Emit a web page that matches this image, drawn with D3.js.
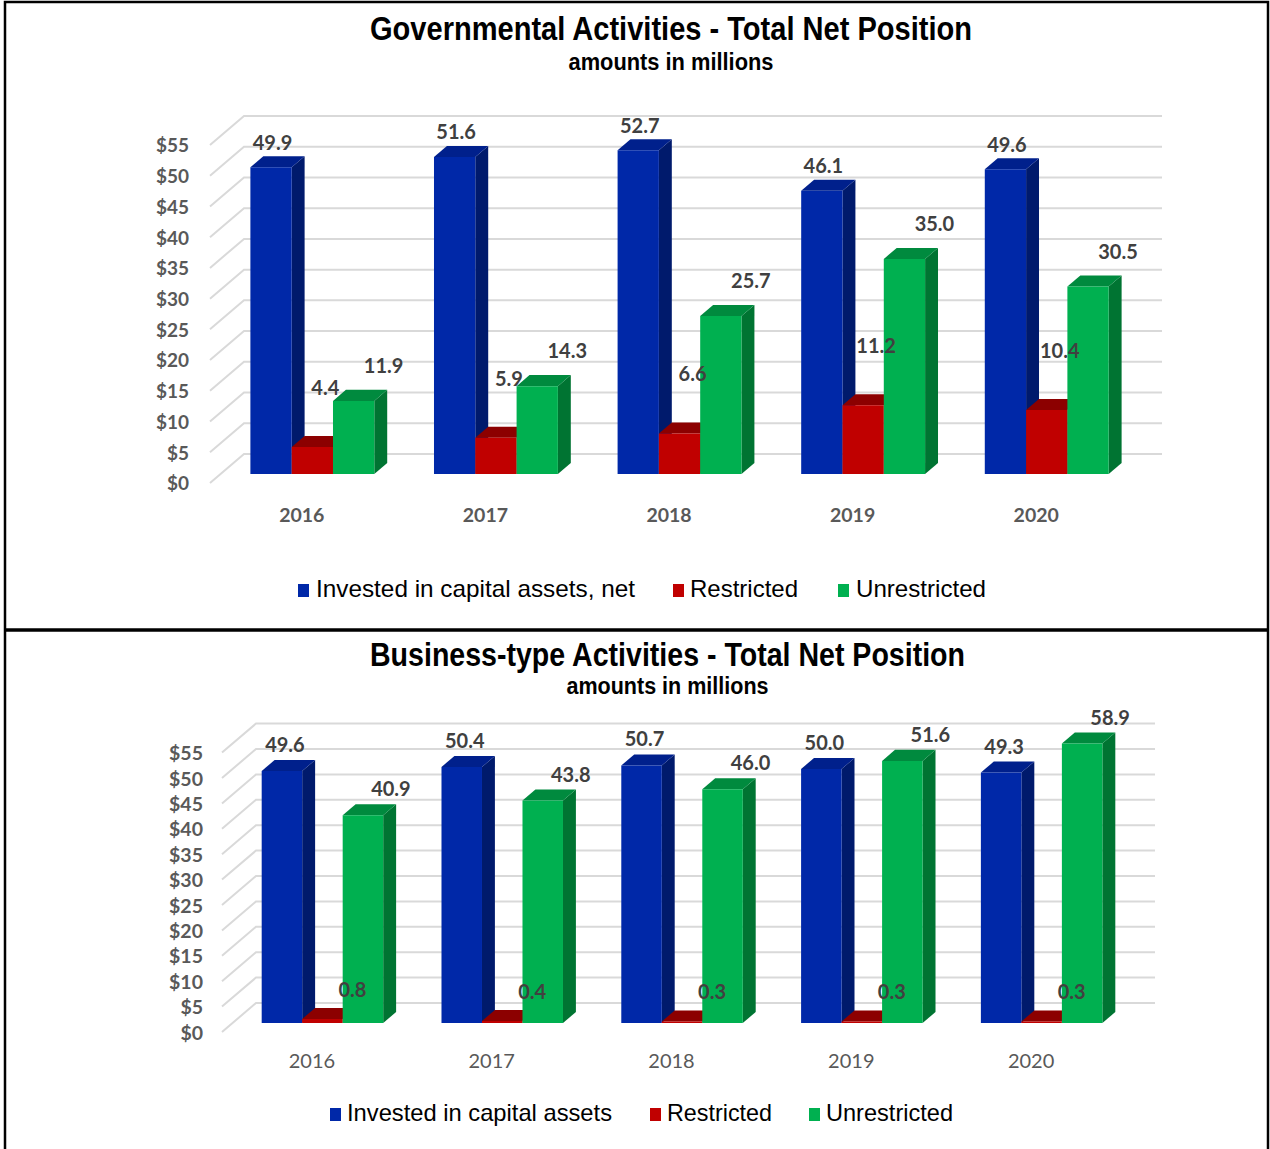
<!DOCTYPE html>
<html><head><meta charset="utf-8">
<script src="https://cdn.jsdelivr.net/npm/d3@7"></script>
<style>body{margin:0;background:#fff} svg{display:block}</style>
</head><body>
<svg id="chart" width="1270" height="1149"></svg>
<script>
// ---------- data ----------
const years = ["2016", "2017", "2018", "2019", "2020"];
const yTicks = [0, 5, 10, 15, 20, 25, 30, 35, 40, 45, 50, 55];
const govSeriesNames = ["Invested in capital assets, net", "Restricted", "Unrestricted"];
const busSeriesNames = ["Invested in capital assets", "Restricted", "Unrestricted"];
const govInvested = [49.9, 51.6, 52.7, 46.1, 49.6];
const govRestricted = [4.4, 5.9, 6.6, 11.2, 10.4];
const govUnrestricted = [11.9, 14.3, 25.7, 35.0, 30.5];
const busInvested = [49.6, 50.4, 50.7, 50.0, 49.3];
const busRestricted = [0.8, 0.4, 0.3, 0.3, 0.3];
const busUnrestricted = [40.9, 43.8, 46.0, 51.6, 58.9];
const govTitle = "Governmental Activities - Total Net Position";
const busTitle = "Business-type Activities - Total Net Position";
const subTitle = "amounts in millions";

// ---------- styles ----------
const palette = [
  {front: "#0028a8", top: "#00208c", side: "#001a6c", key: "#0028a8"},
  {front: "#c00000", top: "#8c0000", side: "#7a0000", key: "#c00000"},
  {front: "#00b050", top: "#008a3e", side: "#007432", key: "#00b050"}
];
const numFont = "Lato, 'Open Sans', sans-serif";
const narrowFont = "'Liberation Sans Narrow', 'Arial Narrow', 'Liberation Sans', Arial, sans-serif";

const svg = d3.select("#chart");

function drawPanel(cfg) {
  const g = svg.append("g");
  const x = d3.scaleBand().domain(cfg.categories).range([cfg.x0, cfg.x1]);
  const y = d3.scaleLinear().domain([0, cfg.max]).range([cfg.y0, cfg.yTop]);
  const s = d3.scaleBand().domain(d3.range(cfg.series.length))
    .range([-1.5 * cfg.barW, 1.5 * cfg.barW]);
  const P = (px, py, d) => [px + d * cfg.DX, py - d * cfg.DY];

  // gridlines: left wall diagonals + back wall
  const grid = g.append("g").attr("stroke", "#d9d9d9").attr("stroke-width", 2).attr("fill", "none");
  yTicks.forEach(t => {
    const a = P(cfg.x0, y(t), 0), b = P(cfg.x0, y(t), 1), c = P(cfg.x1, y(t), 1);
    grid.append("path").attr("d", d3.line()([a, b, c]));
  });

  // y axis labels
  const ya = g.append("g").attr("transform", `translate(${cfg.tickX},0)`)
    .call(d3.axisLeft(y).tickValues(yTicks).tickFormat(d => "$" + d).tickSize(0).tickPadding(0));
  ya.select(".domain").remove();
  ya.selectAll("text").attr("font-family", numFont).attr("font-weight", 700)
    .attr("font-size", cfg.tickFs).attr("fill", "#595959").attr("dy", "0.36em");

  // x axis labels
  const xa = g.append("g").attr("transform", `translate(0,${cfg.y0})`)
    .call(d3.axisBottom(x).tickSize(0));
  xa.select(".domain").remove();
  xa.selectAll("text").attr("font-family", numFont).attr("font-weight", cfg.catWeight)
    .attr("font-size", cfg.catFs).attr("fill", "#595959").attr("y", cfg.catDy).attr("dy", 0);

  // bars
  const dF = cfg.dF, dB = cfg.dB;
  const bars = g.append("g");
  cfg.categories.forEach((cat, i) => {
    const cx = x(cat) + x.bandwidth() / 2;
    cfg.series.forEach((vals, k) => {
      const v = Math.min(vals[i], cfg.max);
      const xl = cx + s(k), xr = xl + s.bandwidth();
      const yt = y(v), yb = y(0);
      const col = palette[k];
      const side = [P(xr, yt, dF), P(xr, yt, dB), P(xr, yb, dB), P(xr, yb, dF)];
      const top = [P(xl, yt, dF), P(xr, yt, dF), P(xr, yt, dB), P(xl, yt, dB)];
      const front = [P(xl, yt, dF), P(xr, yt, dF), P(xr, yb, dF), P(xl, yb, dF)];
      bars.append("path").attr("d", d3.line()(side) + "Z").attr("fill", col.side);
      bars.append("path").attr("d", d3.line()(top) + "Z").attr("fill", col.top);
      bars.append("path").attr("d", d3.line()(front) + "Z").attr("fill", col.front);
    });
  });
  // data labels (on top of all bars)
  const labs = g.append("g");
  cfg.categories.forEach((cat, i) => {
    const cx = x(cat) + x.bandwidth() / 2;
    cfg.series.forEach((vals, k) => {
      const v = Math.min(vals[i], cfg.max);
      const fx = cx + s(k) + s.bandwidth() / 2 + dF * cfg.DX;
      const fy = y(v) - dF * cfg.DY;
      labs.append("text").attr("x", fx + cfg.labOff[k][0]).attr("y", fy - cfg.labOff[k][1])
        .attr("text-anchor", "middle").attr("font-family", numFont).attr("font-weight", 700)
        .attr("font-size", cfg.labFs).attr("fill", "#404040").text(d3.format(".1f")(vals[i]));
    });
  });

  // titles
  g.append("text").attr("x", cfg.titleX).attr("y", cfg.titleY).attr("text-anchor", "middle")
    .attr("font-family", narrowFont).attr("font-weight", 700).attr("font-size", 33)
    .attr("textLength", cfg.titleW).attr("lengthAdjust", "spacingAndGlyphs").text(cfg.title);
  g.append("text").attr("x", cfg.titleX).attr("y", cfg.subY).attr("text-anchor", "middle")
    .attr("font-family", narrowFont).attr("font-weight", 700).attr("font-size", 23)
    .attr("textLength", cfg.subW).attr("lengthAdjust", "spacingAndGlyphs").text(subTitle);

  // legend
  const lg = g.append("g");
  cfg.names.forEach((n, k) => {
    const it = cfg.legend[k];
    lg.append("rect").attr("x", it.sx).attr("y", cfg.legY - 13).attr("width", 11).attr("height", 13)
      .attr("fill", palette[k].key);
    lg.append("text").attr("x", it.tx).attr("y", cfg.legY).attr("font-family", narrowFont)
      .attr("font-size", 24).attr("fill", "#000").attr("textLength", it.tw)
      .attr("lengthAdjust", "spacingAndGlyphs").text(n);
  });
}

drawPanel({
  categories: years, series: [govInvested, govRestricted, govUnrestricted], names: govSeriesNames,
  max: 55, x0: 210, x1: 1128, y0: 483, yTop: 145, DX: 34, DY: 29, dF: 0.31, dB: 0.69,
  barW: 41.3, tickX: 189, tickFs: 19, catFs: 19.5, catWeight: 700, catDy: 39, labFs: 20,
  labOff: [[1.5, 17.5], [13, 52], [30, 28]],
  title: govTitle, titleX: 671, titleY: 40, titleW: 602, subY: 70, subW: 205,
  legY: 597,
  legend: [{sx: 298, tx: 316, tw: 319}, {sx: 673, tx: 690, tw: 108}, {sx: 838, tx: 856, tw: 130}]
});

drawPanel({
  categories: years, series: [busInvested, busRestricted, busUnrestricted], names: busSeriesNames,
  max: 55, x0: 222, x1: 1121, y0: 1032, yTop: 752.6, DX: 34, DY: 29, dF: 0.31, dB: 0.69,
  barW: 40.5, tickX: 203, tickFs: 19.5, catFs: 20, catWeight: 400, catDy: 36, labFs: 20,
  labOff: [[3, 19], [30, 22], [28, 19]],
  title: busTitle, titleX: 667.5, titleY: 666, titleW: 595, subY: 694, subW: 202,
  legY: 1121,
  legend: [{sx: 330, tx: 347, tw: 265}, {sx: 650, tx: 667, tw: 105}, {sx: 809, tx: 826, tw: 127}]
});

// frame
svg.append("rect").attr("x", 5).attr("y", 2).attr("width", 1263).attr("height", 1170)
  .attr("fill", "none").attr("stroke", "#000").attr("stroke-width", 2.5);
svg.append("line").attr("x1", 5).attr("x2", 1268).attr("y1", 630).attr("y2", 630)
  .attr("stroke", "#000").attr("stroke-width", 3.5);
</script>
</body></html>
